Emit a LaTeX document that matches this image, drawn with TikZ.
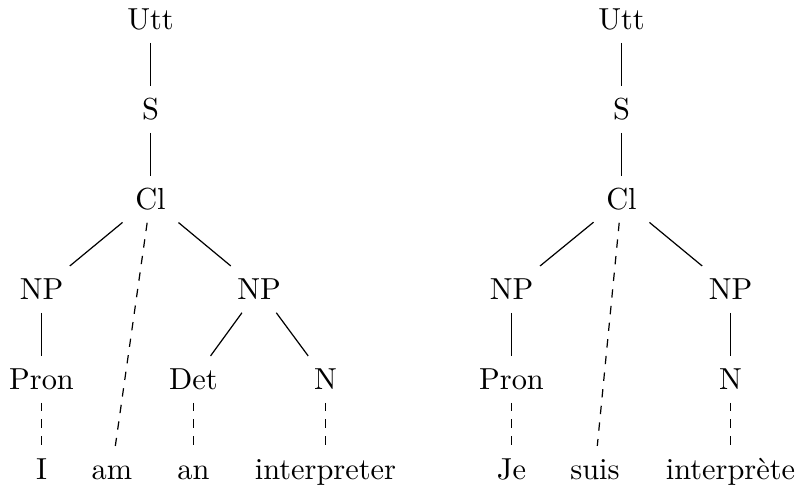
\documentclass[tikz,border=0pt]{standalone}
\begin{document}
\begin{tikzpicture}[x=0.329pt,y=-0.329pt,
  tn/.style={inner sep=4pt, text height=7pt, text depth=0pt, anchor=base},
  branch/.style={line width=0.4pt},
  lex/.style={line width=0.4pt, dash pattern=on 2.75pt off 2.75pt}]
\useasboundingbox (0,0) rectangle (798,486);
% left tree
\node[tn] (utt1) at (150.5,30) {Utt};
\node[tn] (s1) at (150.5,120) {S};
\node[tn] (cl1) at (150.5,210) {Cl};
\node[tn] (npa) at (41.5,300) {NP};
\node[tn] (npb) at (259,300) {NP};
\node[tn] (pron1) at (41.5,390) {Pron};
\node[tn] (det1) at (193.5,390) {Det};
\node[tn] (n1) at (325.5,390) {N};
\node[tn] (wI) at (41.5,480) {I};
\node[tn] (wam) at (112,480) {am};
\node[tn] (wan) at (193.5,480) {an};
\node[tn] (wint) at (325.5,480) {interpreter};
\draw[branch] (utt1) -- (s1);
\draw[branch] (s1) -- (cl1);
\draw[branch] (cl1) -- (npa);
\draw[branch] (cl1) -- (npb);
\draw[branch] (npa) -- (pron1);
\draw[branch] (npb) -- (det1);
\draw[branch] (npb) -- (n1);
\draw[lex] (pron1) -- (wI);
\draw[lex] (cl1) -- (wam);
\draw[lex] (det1) -- (wan);
\draw[lex] (n1) -- (wint);
% right tree
\node[tn] (utt2) at (621.5,30) {Utt};
\node[tn] (s2) at (621.5,120) {S};
\node[tn] (cl2) at (621.5,210) {Cl};
\node[tn] (npc) at (511.5,300) {NP};
\node[tn] (npd) at (730.5,300) {NP};
\node[tn] (pron2) at (511.5,390) {Pron};
\node[tn] (n2) at (730.5,390) {N};
\node[tn] (wje) at (511.5,480) {Je};
\node[tn] (wsuis) at (595,480) {suis};
\node[tn] (winterp) at (730.5,480) {interpr\`ete};
\draw[branch] (utt2) -- (s2);
\draw[branch] (s2) -- (cl2);
\draw[branch] (cl2) -- (npc);
\draw[branch] (cl2) -- (npd);
\draw[branch] (npc) -- (pron2);
\draw[branch] (npd) -- (n2);
\draw[lex] (pron2) -- (wje);
\draw[lex] (cl2) -- (wsuis);
\draw[lex] (n2) -- (winterp);
\end{tikzpicture}
\end{document}
